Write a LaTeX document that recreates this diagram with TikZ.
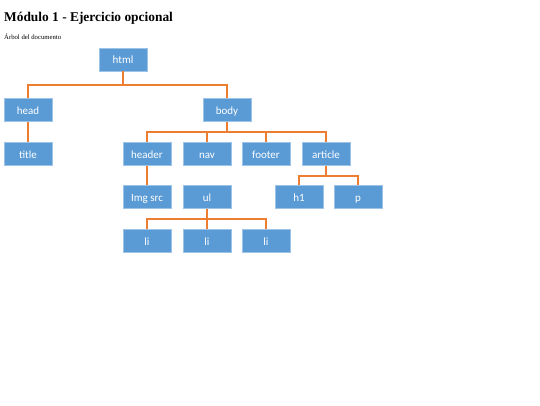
\documentclass[tikz,border=0pt]{standalone}
\usepackage{fontspec}
\setmainfont{Liberation Serif}
\newfontfamily\boxfont{Carlito}
\definecolor{boxfill}{HTML}{5B9BD5}
\definecolor{boxline}{HTML}{9DC3E6}
\definecolor{conn}{HTML}{ED7D31}
\begin{document}
\begin{tikzpicture}[x=1pt,y=-1pt,
  tb/.style={draw=boxline,fill=boxfill,line width=0.6pt,minimum width=48pt,minimum height=23pt,inner sep=0pt,text height=8pt,text depth=0pt,text=white,font=\boxfont\fontsize{11}{12}\selectfont},
  cn/.style={draw=conn,line width=1.8pt}]
\useasboundingbox (0,0) rectangle (540,405);
\node[anchor=base west,inner sep=0pt,font=\bfseries\fontsize{13.4}{15}\selectfont] (ttl) at (4,21) {Módulo 1 - Ejercicio opcional};
\node[anchor=base west,inner sep=0pt,font=\fontsize{6.7}{8}\selectfont] (sub) at (4,39) {Árbol del documento};
\node[tb] (html) at (123,59.5) {html};
\node[tb] (head) at (28,110) {head};
\node[tb] (body) at (227,110) {body};
\node[tb] (title) at (28,154) {title};
\node[tb] (header) at (147,154) {header};
\node[tb] (nav) at (207,154) {nav};
\node[tb] (footer) at (266,154) {footer};
\node[tb] (article) at (326,154) {article};
\node[tb] (img) at (147,197) {Img src};
\node[tb] (ul) at (207,197) {ul};
\node[tb] (h1) at (299,197) {h1};
\node[tb] (p) at (358,197) {p};
\node[tb] (li1) at (147,241) {li};
\node[tb] (li2) at (207,241) {li};
\node[tb] (li3) at (266,241) {li};
\foreach \t in {head,body}
  \draw[cn] (html.south) -- ++(0,14) -| (\t.north);
\draw[cn] (head.south) -- (title.north);
\foreach \t in {header,nav,footer,article}
  \draw[cn] (body.south) -- ++(0,10.5) -| (\t.north);
\draw[cn] (header.south) -- (img.north);
\foreach \t in {h1,p}
  \draw[cn] (article.south) -- ++(0,10.5) -| (\t.north);
\foreach \t in {li1,li2,li3}
  \draw[cn] (ul.south) -- ++(0,10.5) -| (\t.north);
\end{tikzpicture}
\end{document}
